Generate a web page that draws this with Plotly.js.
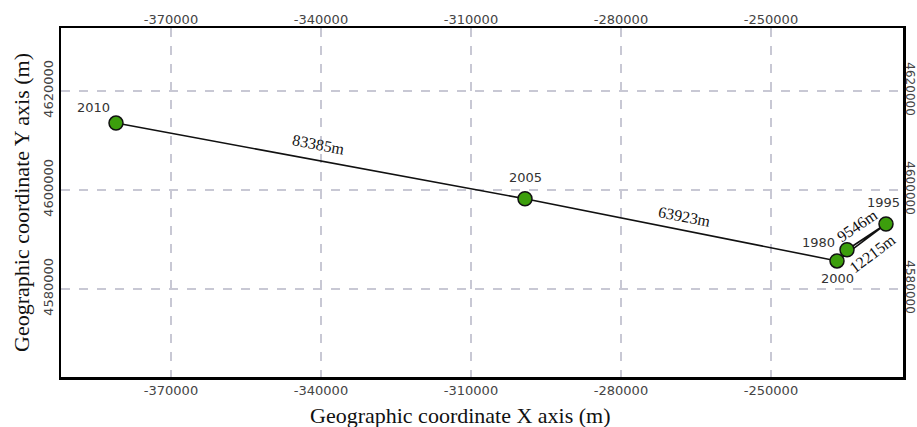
<!DOCTYPE html>
<html>
<head>
<meta charset="utf-8">
<script src="https://cdn.plot.ly/plotly-3.0.1.min.js"></script>
<style>html,body{margin:0;padding:0;background:#fff;}#chart{width:917px;height:427px;}</style>
</head>
<body>
<div id="chart"></div>
<script>
// Data
const years = [1980, 1995, 2000, 2005, 2010];
const xCoord = [-234800, -227000, -236800, -299200, -381000];
const yCoord = [4587900, 4593100, 4585650, 4598200, 4613500];
const distLabels = ['9546m', '12215m', '63923m', '83385m'];
const xTicks = [-370000, -340000, -310000, -280000, -250000];
const yTicks = [4580000, 4600000, 4620000];
const xTitle = 'Geographic coordinate X axis (m)';
const yTitle = 'Geographic coordinate Y axis (m)';

const xRange = [-392000, -223600];
const yRange = [4562200, 4632700];

// label placement (pixel offsets)
const yearShift = {1980: [-29, 7], 1995: [-3, 22], 2000: [0, -18], 2005: [0, 21], 2010: [-23, 16]};
const distShift = [[-9, 11, -34], [11, -11, -37], [3, 13, 11], [-2, 16, 10.5]];

const titleFont = {family: 'Liberation Serif', size: 22, color: '#111'};

const annotations = [];
years.forEach((yr, i) => {
  annotations.push({
    x: xCoord[i], y: yCoord[i], xref: 'x', yref: 'y', text: String(yr), showarrow: false,
    xshift: yearShift[yr][0], yshift: yearShift[yr][1],
    font: {family: 'DejaVu Sans', size: 13, color: '#333'}
  });
});
distLabels.forEach((t, i) => {
  annotations.push({
    x: (xCoord[i] + xCoord[i + 1]) / 2, y: (yCoord[i] + yCoord[i + 1]) / 2,
    xref: 'x', yref: 'y', text: t, showarrow: false,
    xshift: distShift[i][0], yshift: distShift[i][1], textangle: distShift[i][2],
    font: {family: 'Liberation Serif', size: 16, color: '#111'}
  });
});
// x axis title (positioned like the reference, slightly left of plot centre)
annotations.push({
  xref: 'paper', yref: 'paper', x: 0.474, y: 0, yanchor: 'top', xanchor: 'center', yshift: -24,
  text: xTitle, showarrow: false, font: titleFont
});

const tickFont = {family: 'DejaVu Sans', size: 13, color: '#444'};
const gridColor = '#c8c8d4';

const data = [{
  x: xCoord, y: yCoord, mode: 'lines+markers', type: 'scatter',
  line: {color: '#111', width: 1.6},
  marker: {size: 14, color: '#3c9e0c', line: {color: '#111', width: 1.5}},
  hoverinfo: 'skip', showlegend: false
}];

const layout = {
  width: 917, height: 427,
  margin: {l: 61, r: 14, t: 28, b: 50},
  paper_bgcolor: '#fff', plot_bgcolor: '#fff',
  showlegend: false,
  xaxis: {
    range: xRange, tickvals: xTicks, ticktext: xTicks.map(String), ticks: '',
    showgrid: true, gridcolor: gridColor, griddash: 'dash', gridwidth: 1.3,
    zeroline: false, showline: true, linecolor: '#000', linewidth: 2.5, mirror: true,
    tickfont: tickFont
  },
  xaxis2: {
    range: xRange, overlaying: 'x', side: 'top', anchor: 'y', tickvals: xTicks, ticktext: xTicks.map(String), ticks: '',
    showgrid: false, zeroline: false, showline: false, tickfont: tickFont
  },
  yaxis: {
    range: yRange, tickvals: yTicks, ticktext: yTicks.map(String), ticks: '', tickangle: -90,
    showgrid: true, gridcolor: gridColor, griddash: 'dash', gridwidth: 1.3,
    zeroline: false, showline: true, linecolor: '#000', linewidth: 2.5, mirror: true,
    tickfont: tickFont,
    title: {text: yTitle, font: titleFont, standoff: 6}
  },
  yaxis2: {
    range: yRange, overlaying: 'y', side: 'right', anchor: 'x', tickvals: yTicks, ticktext: yTicks.map(String), ticks: '', tickangle: 90,
    showgrid: false, zeroline: false, showline: false,
    tickfont: {family: 'DejaVu Sans', size: 12, color: '#444'}
  },
  annotations: annotations
};

// invisible helper trace so secondary axes render
data.push({x: [xRange[0]], y: [yRange[0]], xaxis: 'x2', yaxis: 'y2', mode: 'markers', marker: {opacity: 0}, hoverinfo: 'skip', showlegend: false});

Plotly.newPlot('chart', data, layout, {staticPlot: true});
</script>
</body>
</html>
